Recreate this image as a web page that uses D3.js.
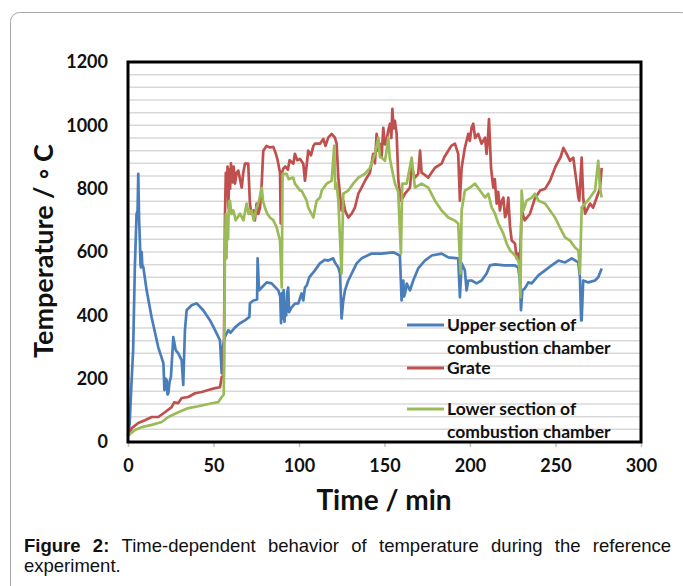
<!DOCTYPE html>
<html><head><meta charset="utf-8">
<script src="https://cdn.jsdelivr.net/npm/d3@7"></script>
<style>body{margin:0;background:#fff}svg{display:block}</style>
</head><body>
<svg id="c" width="683" height="586"></svg>
<script>
const seriesNames = ["Upper section of combustion chamber", "Grate", "Lower section of combustion chamber"];
const xTicks = [0, 50, 100, 150, 200, 250, 300];
const yTicks = [0, 200, 400, 600, 800, 1000, 1200];

const upperT = [0,1,2,3,4,5,5.6,6,6.5,7,7.3,7.6,8,8.3,9,10.9,13.8,17.7,20.7,21.3,22,22.6,23.1,23.6,24.3,25.1,26.5,27.9,29.4,31.4,32.3,33.3,34.3,37.2,40.2,44,48,50.9,53.8,54.8,55.5,56.5,57.7,58.7,60,62.6,65.5,68.4,71,71.3,73.3,75.5,75.8,76.6,78.2,81.1,84,87.9,89,89.5,90,90.5,91,91.5,92,92.5,93,93.7,94.2,95.7,97.6,99.6,101.5,102.5,103.5,104.5,106,109.3,112.2,115,117.1,120,121,123,124,124.9,125.9,126.9,128.8,130.8,133.7,136.6,142.5,148.3,155.1,159,160,161,161.5,162,163,164.9,166.8,169.7,173.6,177.6,183.4,187.3,193.1,194.1,195.1,197,198,199,200.9,203.9,206.8,209.7,211.7,214.6,220,226.3,228.2,229.2,229.8,230.6,232.1,234.1,236.1,240,243.9,247.8,251.7,255.6,259.5,263.3,264.3,265,265.3,266.2,269.2,273.1,275,277];
const upperV = [20,60,180,290,550,720,730,847,700,627,560,551,600,560,551,479,394,299,249,164,200,195,150,154,190,205,331,290,280,258,180,353,416,432,438,416,384,353,321,217,300,330,343,353,345,362,375,384,395,438,447,450,580,479,488,504,501,479,460,375,470,390,480,380,440,400,470,488,410,425,437,438,469,447,488,494,520,542,564,575,573,580,567,551,532,390,447,479,510,532,564,580,595,595,599,589,447,510,460,469,500,479,510,548,573,589,595,583,580,457,564,542,479,510,510,501,510,532,558,561,558,558,551,510,416,479,485,504,501,526,542,558,573,567,580,567,520,384,384,510,504,510,520,548];

const grateT = [0,2.2,6,9.9,13.9,17.7,21.6,25.5,27,29.4,31.4,35.3,39.2,43.1,47,50.9,53.8,54.8,56,56.7,57.2,57.7,58.2,58.7,59.2,59.7,60.2,60.6,61.2,61.8,62.6,63.5,64.5,65.5,66.5,67.4,68.4,70.3,71.3,72.2,73.3,74.2,75.2,76.2,77.2,78.2,79.1,81,83,85,86.5,87.5,88.9,89.3,90,90.8,92,93.5,94.5,96.7,97.6,99,100.6,102.5,103.5,105.4,107,108.4,109.3,112.3,114.2,115.5,117.1,119.1,121,122,123,124.9,125.9,127,128.8,130.8,132.7,134.7,136.6,138.6,141.5,143.4,144.4,145.4,146.3,147.3,148.3,149.3,150.3,151.2,152.2,153.2,154,154.6,155.3,156.1,157.1,158.1,159.6,162,164.9,165.9,167.8,169.7,170.8,171.7,172.7,175.6,179.5,183.4,185,187.3,189,191.2,193.1,194.1,195.1,197,199,199.9,200.9,201.9,203,204.8,206.8,208.8,209.7,210.5,211.1,212.3,213.6,214.5,215.6,216.5,217.5,218.5,219.5,220.5,221.4,222.4,223.4,224.4,226.3,227.3,228.2,229.2,230.2,232,235,238,241,244,246.8,250,253,254.6,256.5,258.5,260.4,262.4,263.4,263.9,265.3,266.2,267.3,270.2,272,274.1,276,277];
const grateV = [20,44,60,69,79,79,94,110,125,123,139,142,154,158,164,170,173,205,210,709,850,780,870,740,860,800,880,850,820,870,816,850,857,830,803,850,879,879,753,720,731,700,753,720,740,816,920,935,930,932,910,890,850,690,850,863,870,860,890,879,910,890,894,879,825,920,905,935,942,942,957,935,961,973,961,942,835,731,762,730,709,721,740,784,803,825,851,910,880,973,920,942,900,992,940,951,985,1005,960,1052,990,1014,973,825,762,784,803,866,835,847,920,850,847,835,866,879,900,920,935,942,910,762,866,929,973,951,992,1005,960,973,942,961,910,960,1020,866,803,830,753,790,731,760,772,710,721,772,680,636,627,580,595,560,731,700,720,770,794,800,825,870,900,929,910,888,898,816,772,762,898,772,721,753,740,772,800,866];

const lowerT = [0,4.1,8,13.9,19.7,23.6,29.4,35.3,41.1,47,52.8,54.8,56,56.7,57.2,57.6,58,58.5,59,59.6,60.5,61.6,63,65.5,67.5,69.4,70.5,72.3,73.5,75.2,76.5,78.2,79,80.1,81.5,83,85,87,88.2,88.9,89.9,90.4,92.7,94,96.6,97.6,100.6,101.5,104.5,105.4,108.4,110.3,112.3,113.3,116.2,119.1,120.6,121.2,122,123,124.9,125.9,128.8,131.7,134.7,138.6,141.5,144.4,146.4,147.3,148.3,150.3,151.2,152.2,153,154.2,156.1,158,159.6,160.4,163,165.9,167.8,171.7,175.6,179.5,183.4,187.3,191.2,193.1,194.5,195.1,197,199.9,202.9,205.8,208.8,210.7,212.7,214.6,216.6,219.5,221.4,223.4,225.3,227.3,228.7,229.5,230.2,231.2,233.1,236.1,238,240,243.9,246.8,249.7,252.6,255.6,258.5,261.4,263.4,264.3,265.3,267.3,270.2,273.1,275,276,277];
const lowerV = [20,38,47,54,63,79,94,107,113,120,126,142,150,600,720,580,700,640,760,762,720,731,700,721,700,753,720,731,700,740,760,803,760,740,720,709,700,677,650,636,488,847,847,830,835,816,794,794,762,740,709,762,772,794,816,825,935,800,816,762,532,784,794,816,835,847,866,910,961,900,898,888,920,961,900,866,816,790,595,816,816,898,803,816,803,762,731,709,699,690,532,731,794,803,816,794,772,784,740,721,690,658,627,605,595,583,564,457,794,731,762,772,784,762,753,731,709,677,646,636,614,605,532,740,753,772,794,888,803,772];

const colors = ["#4a7ebb", "#c0504d", "#9bbb59"];
const series = [
  {name: seriesNames[0], t: upperT, v: upperV, color: colors[0]},
  {name: seriesNames[1], t: grateT, v: grateV, color: colors[1]},
  {name: seriesNames[2], t: lowerT, v: lowerV, color: colors[2]}
];

const svg = d3.select("#c");
const L = 128, R = 641, T = 62, B = 442;
const x = d3.scaleLinear().domain([0, 300]).range([L, R]);
const y = d3.scaleLinear().domain([0, 1200]).range([B, T]);

// outer frame
svg.append("rect").attr("x", 10.5).attr("y", 12.5).attr("width", 680).attr("height", 600)
  .attr("rx", 9).attr("fill", "none").attr("stroke", "#a6a6a6").attr("stroke-width", 1);

// gridlines every 40
const grid = d3.range(40, 1200, 40);
svg.append("g").selectAll("line").data(grid).join("line")
  .attr("x1", L).attr("x2", R).attr("y1", d => y(d)).attr("y2", d => y(d))
  .attr("stroke", "#d9d9d9").attr("stroke-width", 1.5);

// x axis ticks + labels
const xAxis = d3.axisBottom(x).tickValues(xTicks).tickSize(5).tickPadding(12).tickFormat(d3.format("d"));
const gx = svg.append("g").attr("transform", `translate(0,${B})`).call(xAxis);
gx.select(".domain").remove();
gx.selectAll(".tick line").attr("stroke", "#bfbfbf").attr("stroke-width", 1.5);
gx.selectAll(".tick text").attr("font-family", "Lato").attr("font-weight", "bold")
  .attr("font-size", 18).attr("fill", "#111");

// y axis labels
const yAxis = d3.axisLeft(y).tickValues(yTicks).tickSize(0).tickPadding(20).tickFormat(d3.format("d"));
const gy = svg.append("g").attr("transform", `translate(${L},0)`).call(yAxis);
gy.select(".domain").remove();
gy.selectAll(".tick text").attr("font-family", "Lato").attr("font-weight", "bold")
  .attr("font-size", 18).attr("fill", "#111");

// lines
const line = d3.line().x((d) => x(d[0])).y((d) => y(d[1]));
const plot = svg.append("g");
series.forEach(s => {
  const pts = s.t.map((t, i) => [t, s.v[i]]);
  plot.append("path").datum(pts).attr("d", line).attr("fill", "none")
    .attr("stroke", s.color).attr("stroke-width", 2.7).attr("stroke-linejoin", "round");
});

// plot border
svg.append("rect").attr("x", L).attr("y", T).attr("width", R - L).attr("height", B - T)
  .attr("fill", "none").attr("stroke", "#000").attr("stroke-width", 3);

// axis titles
svg.append("text").attr("transform", `translate(53,251) rotate(-90)`).attr("text-anchor", "middle")
  .attr("font-family", "Lato").attr("font-weight", "bold").attr("font-size", 27).attr("fill", "#111")
  .text("Temperature / \u25E6 C");
svg.append("text").attr("x", 384).attr("y", 510).attr("text-anchor", "middle")
  .attr("font-family", "Lato").attr("font-weight", "bold").attr("font-size", 28).attr("fill", "#111")
  .text("Time / min");

// legend
const legItems = [
  {c: colors[0], ly: 325, lines: [["Upper section of", 325], ["combustion chamber", 348]]},
  {c: colors[1], ly: 368, lines: [["Grate", 368]]},
  {c: colors[2], ly: 409, lines: [["Lower section of", 409], ["combustion chamber", 432]]}
];
const lg = svg.append("g");
legItems.forEach(it => {
  lg.append("line").attr("x1", 407).attr("x2", 444).attr("y1", it.ly).attr("y2", it.ly)
    .attr("stroke", it.c).attr("stroke-width", 3);
  it.lines.forEach(([txt, yy]) => {
    lg.append("text").attr("x", 447).attr("y", yy).attr("dy", "0.36em")
      .attr("font-family", "Lato").attr("font-weight", "bold").attr("font-size", 17.5).attr("fill", "#111")
      .text(txt);
  });
});

// caption (justified first line)
const capWords = [["Figure", true], ["2:", true], ["Time-dependent", false], ["behavior", false], ["of", false],
  ["temperature", false], ["during", false], ["the", false], ["reference", false]];
const capX0 = 24, capX1 = 671, capY = 552;
const cap = svg.append("g").attr("font-family", "Liberation Sans").attr("font-size", 18.5).attr("fill", "#111");
const nodes = capWords.map(([w, b]) => cap.append("text").attr("y", capY).attr("font-weight", b ? "bold" : "normal").text(w));
const widths = nodes.map(n => n.node().getComputedTextLength());
const gap = (capX1 - capX0 - d3.sum(widths)) / (nodes.length - 1);
let cx = capX0;
nodes.forEach((n, i) => { n.attr("x", cx); cx += widths[i] + gap; });
cap.append("text").attr("x", capX0).attr("y", 572).text("experiment.");
</script>
</body></html>
